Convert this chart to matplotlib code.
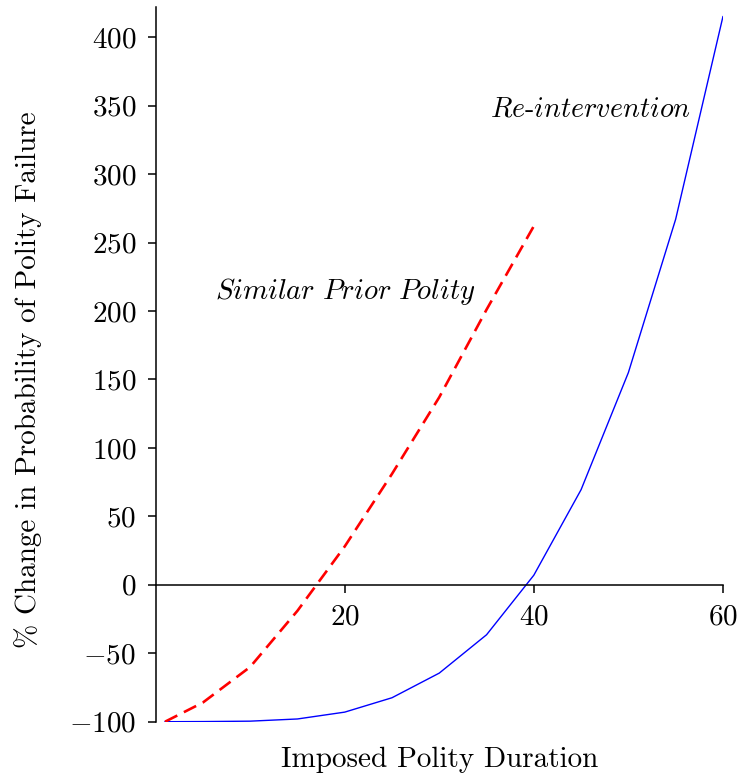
import matplotlib
matplotlib.use('Agg')
import matplotlib.pyplot as plt

# computer modern look, fonts shipped with matplotlib
plt.rcParams['font.family'] = 'cmr10'
plt.rcParams['mathtext.fontset'] = 'cm'
plt.rcParams['axes.formatter.use_mathtext'] = True

#data
duration = [1, 5, 10, 15, 20, 25, 30, 35, 40, 45, 50, 55, 60]
reintervention = [-100, -99.9, -99.6, -98, -93, -82.5, -64.5, -36.5, 7, 69.5, 155, 267, 415]

duration_prior = [1, 5, 10, 15, 20, 25, 30, 35, 40]
similar_prior = [-100, -86, -60, -19, 28, 81, 137, 201, 262]

xticks = [20, 40, 60]
yticks = [-100, -50, 0, 50, 100, 150, 200, 250, 300, 350, 400]

fig = plt.figure(figsize=(7.42, 7.82), dpi=100)
ax = fig.add_axes([0.2097, 0.0771, 0.7646, 0.9139])

ax.plot(duration, reintervention, color='blue', linewidth=1.0)
ax.plot(duration_prior, similar_prior, color='red', linewidth=1.9, dashes=(5.2, 2.8))

ax.text(56.6, 347, r'$\mathit{Re}$-$\mathit{intervention}$', fontsize=20.2, ha='right', va='center')
ax.text(20.1, 214, r'$\mathit{Similar\ Prior\ Polity}$', fontsize=20.6, ha='center', va='center')

ax.set_xlim(0, 60)
ax.set_ylim(-100, 422)
ax.set_xticks(xticks)
ax.set_yticks(yticks)

ax.spines['top'].set_visible(False)
ax.spines['right'].set_visible(False)
ax.spines['bottom'].set_position(('data', 0))
for s in ['left', 'bottom']:
    ax.spines[s].set_linewidth(1.1)

ax.tick_params(axis='both', direction='out', length=6, width=1.1, labelsize=21, pad=8)

ax.set_xlabel('Imposed Polity Duration', fontsize=21, va='center')
ax.set_ylabel('% Change in Probability of Polity Failure', fontsize=21, va='center')

# put the axis labels where they sit in the reference (pixel coords)
ax.xaxis.set_label_coords(440 / 742, 1 - 760 / 782, transform=fig.transFigure)
ax.yaxis.set_label_coords(28 / 742, 1 - 380 / 782, transform=fig.transFigure)

plt.savefig('out.png', dpi=100)
